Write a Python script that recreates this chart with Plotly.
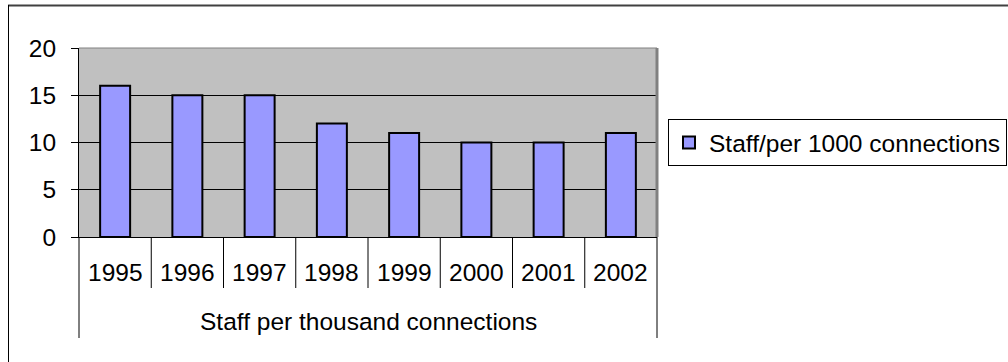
import plotly.graph_objects as go

# Staff per thousand connections, by year
years = ["1995", "1996", "1997", "1998", "1999", "2000", "2001", "2002"]
staff_per_1000 = [16, 15, 15, 12, 11, 10, 10, 11]
series_name = "Staff/per 1000 connections"
group_label = "Staff per thousand connections"

W, H = 1008, 362
L, R, T, B = 79, 657, 48, 237          # plot area in pixels
plot_h = B - T
plot_w = R - L


def py(pix):
    """pixel row -> paper y"""
    return (B - pix) / plot_h


def px(pix):
    """pixel column -> paper x"""
    return (pix - L) / plot_w


FONT = "Liberation Sans, Arial, sans-serif"
FS = 24.5
n = len(years)

fig = go.Figure()
fig.add_trace(go.Bar(
    x=years, y=staff_per_1000, name=series_name,
    marker=dict(color="#9999FF", line=dict(color="black", width=2)),
    showlegend=True,
))

shapes = []
# category table under the axis: inner separators and outer edges
for i in range(n + 1):
    bottom = 338 if i in (0, n) else 288
    shapes.append(dict(type="line", xref="paper", yref="paper",
                       x0=i / n, x1=i / n, y0=0, y1=py(bottom),
                       line=dict(color="black", width=1)))
# plot-area border (top and right in grey)
shapes.append(dict(type="line", xref="paper", yref="paper", x0=0, x1=1, y0=1, y1=1,
                   line=dict(color="#808080", width=1)))
shapes.append(dict(type="line", xref="paper", yref="paper", x0=1, x1=1, y0=0, y1=1,
                   line=dict(color="#808080", width=3)))
# chart frame
shapes.append(dict(type="line", xref="paper", yref="paper",
                   x0=px(8), x1=px(1020), y0=py(5.5), y1=py(5.5),
                   line=dict(color="#404040", width=2)))
shapes.append(dict(type="line", xref="paper", yref="paper",
                   x0=px(8.5), x1=px(8.5), y0=py(5), y1=py(380),
                   line=dict(color="black", width=1)))

annotations = []
for i, yr in enumerate(years):
    annotations.append(dict(x=(i + 0.5) / n, xref="paper", y=py(272), yref="paper", text=yr,
                            showarrow=False, font=dict(size=FS, color="black", family=FONT),
                            xanchor="center", yanchor="middle"))
annotations.append(dict(x=0.5, xref="paper", y=py(321), yref="paper", text=group_label,
                        showarrow=False, font=dict(size=FS, color="black", family=FONT),
                        xanchor="center", yanchor="middle"))

fig.update_layout(
    width=W, height=H,
    margin=dict(l=L, r=W - R, t=T, b=H - B, pad=0, autoexpand=False),
    paper_bgcolor="white", plot_bgcolor="#C0C0C0",
    font=dict(family=FONT, size=FS, color="black"),
    bargap=0.585,
    shapes=shapes, annotations=annotations,
    legend=dict(x=px(668), xanchor="left", y=py(119), yanchor="top",
                bordercolor="black", borderwidth=1, bgcolor="white",
                font=dict(size=FS, family=FONT, color="black"),
                itemsizing="constant"),
    xaxis=dict(type="category", range=[-0.5, n - 0.5], showticklabels=False,
               showline=True, linecolor="black", linewidth=1, ticks="",
               showgrid=False, zeroline=False, fixedrange=True),
    yaxis=dict(range=[0, 20], dtick=5, tick0=0, showgrid=True, gridcolor="black",
               gridwidth=1, zeroline=False, showline=True, linecolor="black",
               linewidth=1, ticks="outside", ticklen=7, tickcolor="black",
               ticklabelstandoff=10, tickfont=dict(size=FS, family=FONT, color="black"),
               fixedrange=True),
)

fig.write_html("out.html")
